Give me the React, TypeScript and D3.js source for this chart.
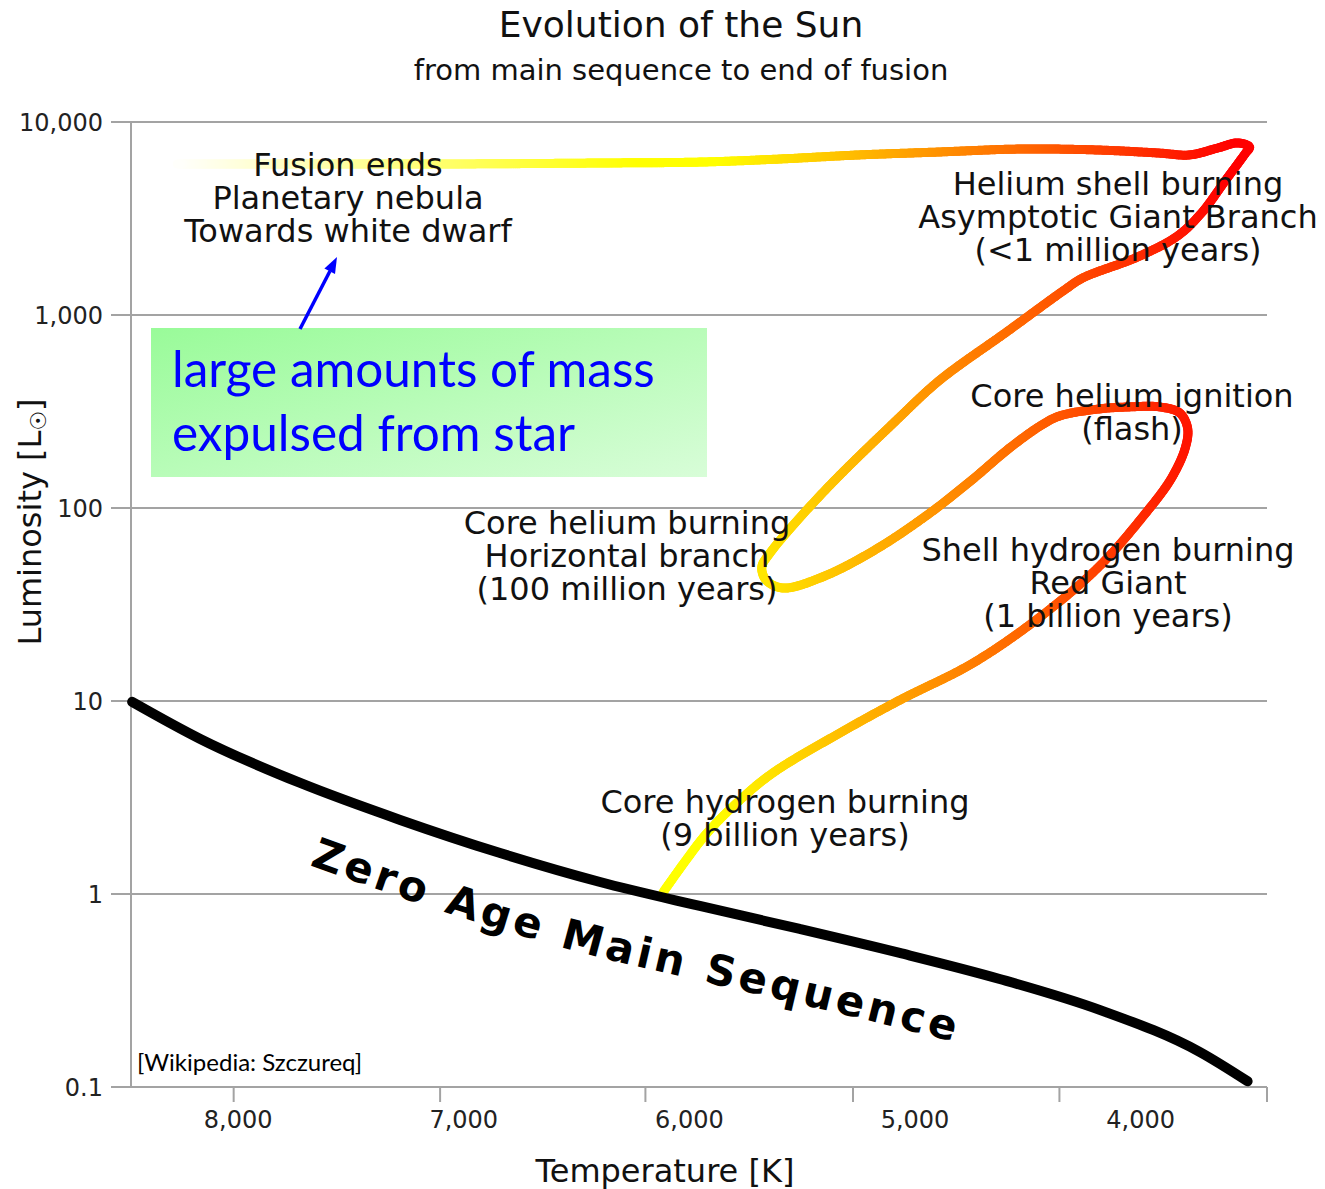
import { useEffect, useRef } from "react";
import * as d3 from "d3";

const W = 1325;
const H = 1189;

// zero age main sequence (temperature K, luminosity Lsun)
const zamsTemp = [8470, 8168, 7725, 7282, 6839, 6396, 5954, 5511, 5068, 4625, 4182, 3739, 3526];
const zamsLum = [9.9, 6.36, 3.76, 2.42, 1.63, 1.154, 0.867, 0.659, 0.495, 0.363, 0.251, 0.152, 0.107];

// track of the Sun, from main sequence to end of fusion
const sunTemp = [
  6117, 6020, 5922, 5776, 5630, 5333, 5068, 4744, 4447, 4186,
  3978, 3863, 3801, 3792, 3827, 3916, 4049, 4186, 4359, 4439,
  4580, 4744, 4935, 5174, 5409, 5586, 5661, 5679, 5643, 5409,
  5081, 4890, 4594, 4337, 4257, 4013, 3836, 3730, 3623, 3535,
  3517, 3570, 3659, 3783, 3916, 4186, 4540, 4895, 5249, 5599,
  5953, 6396, 7061, 7725, 8270,
];
const sunLum = [
  1.02, 1.47, 2.07, 3.07, 4.24, 6.83, 10.1, 15.7, 27.2, 49.5,
  94, 143, 207, 260, 311, 334, 334, 326, 300, 269,
  205, 141, 94, 61, 44, 38.5, 42.4, 49.5, 58.4, 120,
  286, 460, 817, 1350, 1555, 2000, 2570, 3380, 5000, 6900,
  7420, 7790, 7330, 6750, 6900, 7160, 7240, 6990, 6750, 6430,
  6200, 6130, 6060, 6060, 6060,
];

const lumTicks = [0.1, 1, 10, 100, 1000, 10000];
const lumTickLabels = ["0.1", "1", "10", "100", "1,000", "10,000"];
const tempTicks = [8000, 7000, 6000, 5000, 4000];
const tempTickLabels = ["8,000", "7,000", "6,000", "5,000", "4,000"];
// the small tick marks on the temperature axis do not sit under the labels
const tempTickMarks = [8020, 7105, 6195, 5275, 4360, 3440];

const phaseLabels = [
  { lines: ["Fusion ends", "Planetary nebula", "Towards white dwarf"], cx: 348, by: 176 },
  { lines: ["Helium shell burning", "Asymptotic Giant Branch", "(<1 million years)"], cx: 1118, by: 195 },
  { lines: ["Core helium ignition", "(flash)"], cx: 1132, by: 407 },
  { lines: ["Core helium burning", "Horizontal branch", "(100 million years)"], cx: 627, by: 534 },
  { lines: ["Shell hydrogen burning", "Red Giant", "(1 billion years)"], cx: 1108, by: 561 },
  { lines: ["Core hydrogen burning", "(9 billion years)"], cx: 785, by: 813 },
];

const FONT = "'DejaVu Sans', Verdana, sans-serif";
const NOTE_FONT = "Lato, 'Open Sans', sans-serif";

export default function App() {
  const svgRef = useRef<SVGSVGElement | null>(null);

  useEffect(() => {
    if (!svgRef.current) return;
    const svg = d3.select(svgRef.current);
    svg.selectAll("*").remove();

    const x = d3.scaleLinear().domain([8475, 3440]).range([131, 1267]);
    const y = d3.scaleLog().domain([0.1, 10000]).range([1087, 122]);
    const heat = d3
      .scaleLinear<string>()
      .domain([3600, 5900, 6250, 8300])
      .range(["#ff0000", "#ffff00", "#ffff00", "#ffffff"])
      .clamp(true);

    const defs = svg.append("defs");
    const root = svg.append("g").attr("font-family", FONT);

    // titles
    root.append("text").attr("x", 681).attr("y", 37).attr("text-anchor", "middle")
      .attr("font-size", 36).attr("fill", "#111").text("Evolution of the Sun");
    root.append("text").attr("x", 681).attr("y", 80).attr("text-anchor", "middle")
      .attr("font-size", 29).attr("fill", "#111").text("from main sequence to end of fusion");

    // grid lines + y axis
    root.append("g").selectAll("line").data(lumTicks).join("line")
      .attr("x1", 111).attr("x2", x.range()[1])
      .attr("y1", (d) => y(d)).attr("y2", (d) => y(d))
      .attr("stroke", "#a3a3a3").attr("stroke-width", 2);
    root.append("line").attr("x1", 131).attr("x2", 131).attr("y1", y(10000)).attr("y2", y(0.1))
      .attr("stroke", "#a3a3a3").attr("stroke-width", 2);
    root.append("g").selectAll("text").data(lumTicks).join("text")
      .attr("x", 103).attr("y", (d) => y(d)).attr("dy", "0.36em")
      .attr("text-anchor", "end").attr("font-size", 24).attr("fill", "#222")
      .text((d, i) => lumTickLabels[i]);

    // x axis tick marks and labels
    root.append("g").selectAll("line").data(tempTickMarks).join("line")
      .attr("x1", (d) => x(d)).attr("x2", (d) => x(d))
      .attr("y1", y(0.1)).attr("y2", y(0.1) + 15)
      .attr("stroke", "#a3a3a3").attr("stroke-width", 2);
    root.append("g").selectAll("text").data(tempTicks).join("text")
      .attr("x", (d) => x(d)).attr("y", 1128)
      .attr("text-anchor", "middle").attr("font-size", 24).attr("fill", "#222")
      .text((d, i) => tempTickLabels[i]);

    // axis titles
    root.append("text").attr("x", 665).attr("y", 1182).attr("text-anchor", "middle")
      .attr("font-size", 32).attr("fill", "#111").text("Temperature [K]");
    const yt = root.append("text").attr("transform", "translate(41,522) rotate(-90)")
      .attr("text-anchor", "middle").attr("font-size", 32).attr("fill", "#111");
    yt.append("tspan").text("Luminosity [L");
    yt.append("tspan").attr("font-size", 22).attr("dy", 5).text("\u2609");
    yt.append("tspan").attr("dy", -5).text("]");

    // solar track, coloured by temperature along its length
    const line = d3
      .line<[number, number]>()
      .x((d) => x(d[0]))
      .y((d) => y(d[1]))
      .curve(d3.curveCatmullRom.alpha(0.5));
    const trackPts = sunTemp.map((t, i) => [t, sunLum[i]] as [number, number]);
    const guide = root.append("path").attr("d", line(trackPts) || "").attr("fill", "none").attr("stroke", "none");
    const node = guide.node() as SVGPathElement;
    const total = node.getTotalLength();
    const trackG = root.append("g").attr("stroke-width", 9).attr("stroke-linecap", "round");
    let prev = node.getPointAtLength(0);
    for (let s = 2; s < total + 2; s += 2) {
      const p = node.getPointAtLength(Math.min(s, total));
      trackG.append("line")
        .attr("x1", prev.x).attr("y1", prev.y).attr("x2", p.x).attr("y2", p.y)
        .attr("stroke", heat(x.invert((prev.x + p.x) / 2)));
      prev = p;
    }

    // zero age main sequence
    const zamsLine = d3
      .line<[number, number]>()
      .x((d) => x(d[0]))
      .y((d) => y(d[1]))
      .curve(d3.curveMonotoneX);
    const zams = zamsTemp.map((t, i) => [t, zamsLum[i]] as [number, number]);
    const zamsPath = root.append("path").attr("d", zamsLine(zams) || "").attr("fill", "none")
      .attr("stroke", "#000").attr("stroke-width", 10).attr("stroke-linecap", "round");

    // label follows the main sequence, offset below it
    const zNode = zamsPath.node() as SVGPathElement;
    const zLen = zNode.getTotalLength();
    const offPts: [number, number][] = [];
    for (let s = 0; s <= zLen; s += 4) {
      const a = zNode.getPointAtLength(Math.max(0, s - 3));
      const b = zNode.getPointAtLength(Math.min(zLen, s + 3));
      const p = zNode.getPointAtLength(s);
      const dx = b.x - a.x;
      const dy = b.y - a.y;
      const n = Math.hypot(dx, dy) || 1;
      offPts.push([p.x - (dy / n) * 73, p.y + (dx / n) * 73]);
    }
    let startLen = 0;
    for (let i = 1; i < offPts.length; i++) {
      if (offPts[i][0] >= 312) break;
      startLen += Math.hypot(offPts[i][0] - offPts[i - 1][0], offPts[i][1] - offPts[i - 1][1]);
    }
    root.append("path").attr("id", "zamsLabelPath")
      .attr("d", d3.line()(offPts) || "").attr("fill", "none").attr("stroke", "none");
    root.append("text")
      .attr("font-size", 42).attr("font-weight", "bold").attr("letter-spacing", 3.8).attr("fill", "#000")
      .append("textPath").attr("href", "#zamsLabelPath").attr("startOffset", startLen)
      .text("Zero Age Main Sequence");

    // phase labels
    phaseLabels.forEach((lab) => {
      const t = root.append("text").attr("text-anchor", "middle").attr("font-size", 32).attr("fill", "#111");
      lab.lines.forEach((ln, i) => {
        t.append("tspan").attr("x", lab.cx).attr("y", lab.by + i * 33).text(ln);
      });
    });

    // credit
    root.append("text").attr("x", 137).attr("y", 1071).attr("font-family", NOTE_FONT)
      .attr("font-size", 24).attr("fill", "#000").text("[Wikipedia: Szczureq]");

    // green note box with arrow
    const grad = defs.append("linearGradient").attr("id", "noteGrad")
      .attr("x1", "0").attr("y1", "0").attr("x2", "1").attr("y2", "1");
    grad.append("stop").attr("offset", "0").attr("stop-color", "#99fb99");
    grad.append("stop").attr("offset", "1").attr("stop-color", "#d8fdd8");
    root.append("rect").attr("x", 151).attr("y", 328).attr("width", 556).attr("height", 149)
      .attr("fill", "url(#noteGrad)");
    const note = root.append("text").attr("font-family", NOTE_FONT)
      .attr("font-size", 49.5).attr("fill", "#0000ff");
    note.append("tspan").attr("x", 172).attr("y", 387).text("large amounts of mass");
    note.append("tspan").attr("x", 172).attr("y", 451).text("expulsed from star");

    root.append("line").attr("x1", 300).attr("y1", 329).attr("x2", 330).attr("y2", 271)
      .attr("stroke", "#0000ff").attr("stroke-width", 3.5);
    root.append("path").attr("d", "M337,257 L335,274 L324.4,268.5 Z").attr("fill", "#0000ff");
  }, []);

  return (
    <svg
      ref={svgRef}
      width={W}
      height={H}
      viewBox={`0 0 ${W} ${H}`}
      style={{ position: "absolute", left: 0, top: 0, background: "#fff" }}
    />
  );
}
